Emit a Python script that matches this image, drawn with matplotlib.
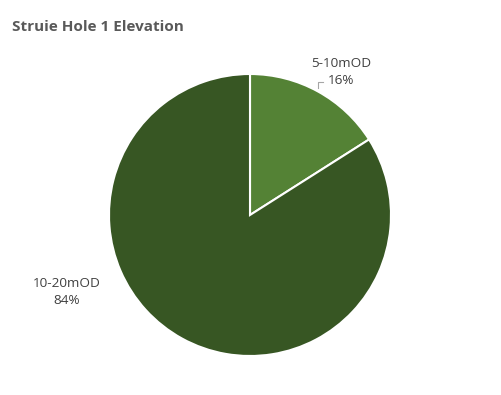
import matplotlib.pyplot as plt

categories = ['5-10mOD', '10-20mOD']
shares = [16, 84]
colors = ['#548235', '#375623']

W, H = 501, 395
fig = plt.figure(figsize=(W / 100, H / 100), dpi=100)
fig.patch.set_facecolor('white')

# pie centred at (250, 215) px, radius ~141 px
cx, cy, r = 250, 215, 141
ax = fig.add_axes([(cx - r) / W, (H - cy - r) / H, 2 * r / W, 2 * r / H])
wedges, _ = ax.pie(shares, colors=colors, startangle=90, counterclock=False,
                   radius=1, wedgeprops=dict(edgecolor='white', linewidth=1.5))
ax.set_xlim(-1, 1)
ax.set_ylim(-1, 1)
ax.set_aspect('equal')
ax.axis('off')

font = 'Open Sans'
label_pos = [(341, 72), (67, 292)]
for cat, val, (px, py) in zip(categories, shares, label_pos):
    fig.text(px / W, 1 - py / H, f'{cat}\n{val}%', ha='center', va='center',
             fontsize=9.7, color='#404040', family=font, linespacing=1.45)

# small leader line for the 16% label
ax.plot([0.483, 0.483, 0.52], [0.90, 0.94, 0.94], color='#a6a6a6', lw=0.8,
        clip_on=False)

fig.text(12 / W, 1 - 27 / H, 'Struie Hole 1 Elevation', ha='left', va='center',
         fontsize=11, fontweight='bold', color='#595959', family=font)

fig.savefig('out.png', dpi=100)
